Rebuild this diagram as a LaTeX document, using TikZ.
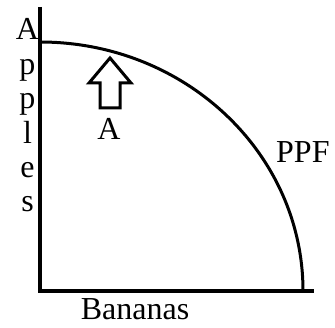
\documentclass[tikz,border=0pt]{standalone}
\usepackage{fontspec}
\setmainfont{Liberation Serif}
\usetikzlibrary{positioning}
\tikzset{
  lab/.style={font=\fontsize{32}{34}\selectfont,inner sep=0pt,anchor=base},
  axisline/.style={line width=4pt,black},
  ppfline/.style={line width=3pt,black},
  blockarrow/.style={line width=3pt,black,line join=miter,fill=white}
}
\begin{document}
\begin{tikzpicture}[x=1pt,y=1pt]
  \useasboundingbox (0,0) rectangle (335,327);
  % axes
  \coordinate (top) at (40,320);
  \coordinate (origin) at (40,36);
  \coordinate (right) at (314,36);
  \draw[axisline] (top) -- (origin) -- (right);
  % frontier
  \draw[ppfline] (40,285) arc[start angle=90,end angle=0,x radius=263,y radius=249];
  % block arrow at point A
  \coordinate (tip) at (110,269);
  \draw[blockarrow] (tip) -- ++(21,-25) -- ++(-11,0) -- ++(0,-25) -- ++(-20,0)
    -- ++(0,25) -- ++(-11,0) -- cycle;
  \node[lab,anchor=base] (ptA) at (109,187) {A};
  % labels
  \foreach \ch [count=\i] in {A,p,p,l,e,s}
    \node[lab] (apples\i) at (27.5,{287-34.4*(\i-1)}) {\ch};
  \node[lab,anchor=base west] (ppf) at (276,164) {PPF};
  \node[lab,text depth=0pt] (bananas) at (135,7.5) {Bananas};
\end{tikzpicture}
\end{document}
